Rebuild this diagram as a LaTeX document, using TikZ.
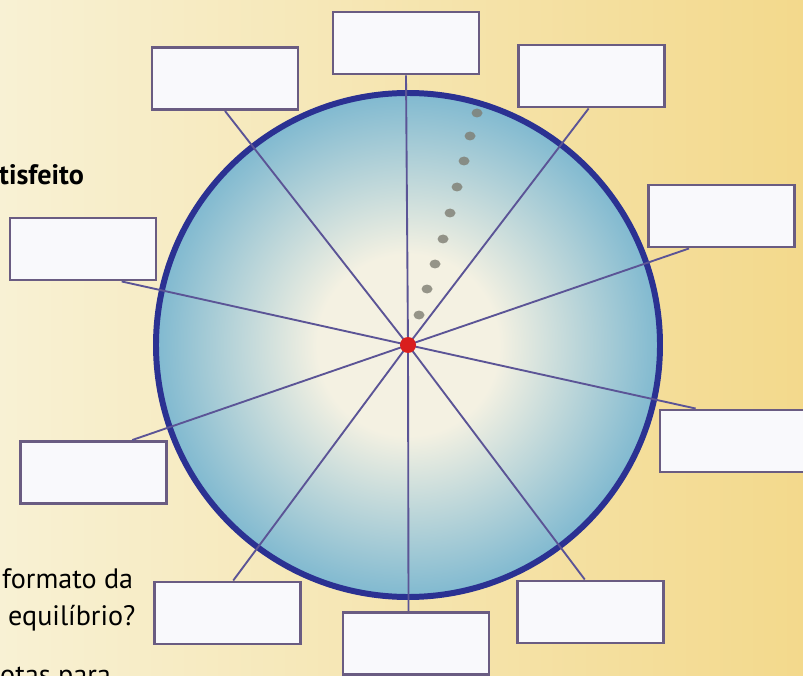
\documentclass[tikz,border=0pt]{standalone}
\usepackage{fontspec}
\setmainfont{PT Sans}

\definecolor{paperleft}{HTML}{F8F1D4}
\definecolor{paperright}{HTML}{F3D98C}
\definecolor{discin}{HTML}{F4F1E2}
\definecolor{discout}{HTML}{80B9D0}
\definecolor{rim}{HTML}{2B3192}
\definecolor{spokecol}{HTML}{5B5496}
\definecolor{boxline}{HTML}{6A5C82}
\definecolor{boxfill}{HTML}{F9F9FC}
\definecolor{centrered}{HTML}{D91E1E}
\definecolor{trail}{HTML}{7E7D72}

\pgfdeclareradialshading{disc}{\pgfpoint{0bp}{0bp}}{color(0bp)=(discin); color(9bp)=(discin); color(25bp)=(discout); color(50bp)=(discout)}

\begin{document}
\begin{tikzpicture}[x=0.03cm, y=-0.03cm,
  blank/.style={draw=boxline, fill=boxfill, line width=2.5pt,
                minimum width=4.38cm, minimum height=1.86cm, inner sep=0pt},
  spoke/.style={spokecol, line width=1.6pt},
  cue/.style={font=\fontsize{24}{28}\selectfont, anchor=base west, inner sep=0pt}]
  \useasboundingbox (0,0) rectangle (803,676);
  \clip (0,0) rectangle (803,676);

  % Paper
  \shade[left color=paperleft, right color=paperright] (0,0) rectangle (803,676);

  % Text of the page, cut at the edge
  \node[cue, font=\fontsize{24}{28}\selectfont\bfseries] (t1) at (-1,185) {tisfeito};
  \node[cue] (t2) at (2,588) {formato da};
  \node[cue] (t3) at (8,625) {equilíbrio?};
  \node[cue] (t4) at (0,684) {otas para};

  % The disc
  \shade[shading=disc] (408,345) circle (252);
  \draw[rim, line width=5.1pt] (408,345) circle (252);

  % Trail of dots
  \foreach \px/\py in {477/113, 470/136, 464/161, 457/187, 450/213, 443/239, 435/264, 427/289, 419/315}
    \fill[trail, opacity=0.8] (\px,\py) ellipse (5.5 and 4.5);

  % Empty boxes round the disc
  \node[blank] (bt) at (406,43) {};
  \node[blank] (tl) at (225,78.5) {};
  \node[blank] (tr) at (591.5,76) {};
  \node[blank] (ru) at (721.5,216) {};
  \node[blank] (lu) at (83,249) {};
  \node[blank] (rl) at (733,441) {};
  \node[blank] (ll) at (93.5,472.5) {};
  \node[blank] (bl) at (227.5,613) {};
  \node[blank] (bb) at (416,643.5) {};
  \node[blank] (br) at (590.5,612) {};

  % Spokes from the centre
  \coordinate (ctr) at (408,345);
  \draw[spoke] (ctr) -- (bt.south);
  \draw[spoke] (ctr) -- (tl.south);
  \draw[spoke] (ctr) -- (tr.-95);
  \draw[spoke] (ctr) -- (ru.-135);
  \draw[spoke] (ctr) -- (lu.-40);
  \draw[spoke] (ctr) -- (rl.139);
  \draw[spoke] (ctr) -- (ll.40);
  \draw[spoke] (ctr) -- (bl.80);
  \draw[spoke] (ctr) -- (bb.103);
  \draw[spoke] (ctr) -- (br.100);

  % Centre point
  \fill[centrered] (ctr) circle (8);
\end{tikzpicture}
\end{document}
